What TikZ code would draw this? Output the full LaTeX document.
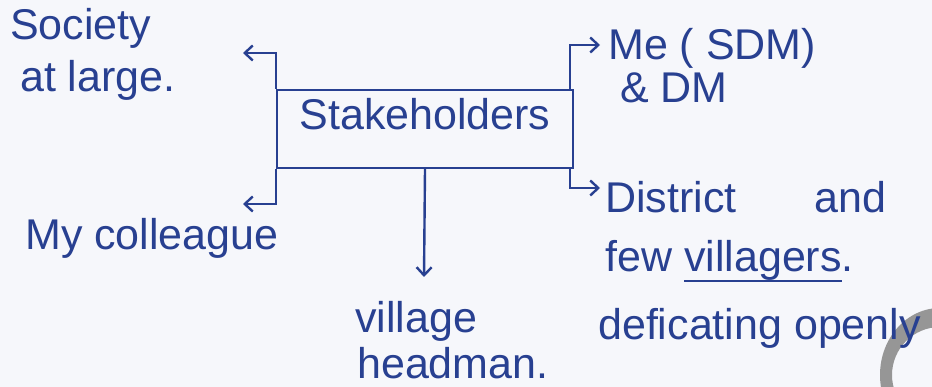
\documentclass[tikz,border=0pt]{standalone}
\usepackage{fontspec}
\setmainfont{Liberation Sans}
\usetikzlibrary{arrows.meta}
\definecolor{ink}{RGB}{40,64,145}
\definecolor{paper}{RGB}{246,247,251}
\definecolor{wm}{RGB}{150,150,150}
\newcommand\myul[1]{\setbox0\hbox{#1}\rlap{\color{ink}\rule[-10pt]{\wd0}{2pt}}#1}
\begin{document}
\begin{tikzpicture}[x=1pt,y=-1pt,
  handfont/.style={font=\fontsize{43}{50}\selectfont},
  txt/.style={handfont, anchor=base west, inner sep=0pt, text=ink},
  wire/.style={draw=ink, line width=2.4pt},
  arr/.style={wire, -{Straight Barb[length=8pt,width=15pt]}}]
\fill[paper] (0,0) rectangle (932,387);
\useasboundingbox (0,0) rectangle (932,387);
\begin{scope}
\clip (0,0) rectangle (932,387);
\fill[wm, even odd rule] (940,375) ellipse[x radius=60, y radius=67] (940,375) circle[radius=48];
\end{scope}

% central box
\node[wire, handfont, text=ink, anchor=center, minimum width=296pt, inner sep=0pt,
      text height=40pt, text depth=38pt] (stake) at (425,129) {Stakeholders};

% labels
\node[txt] (soc1) at (10,40) {Society};
\node[txt] (soc2) at (20,92) {at large.};
\node[txt] (me1) at (608,60) {Me ( SDM)};
\node[txt] (me2) at (620,103) {\& DM};
\node[txt] (dis1) at (605,213) {District\hspace{78pt}and};
\node[txt] (dis2) at (605,272) {few \myul{villagers}.};
\node[txt] (dis3) at (598,340) {deficating openly};
\node[txt] (col) at (25,250) {My colleague};
\node[txt] (vil1) at (355,333) {village};
\node[txt] (vil2) at (357,378) {headman.};

% arrow ends
\coordinate (socT) at (243,53);
\coordinate (colT) at (243,204);
\coordinate (meT) at (600,45);
\coordinate (disT) at (600,188);
\coordinate (headT) at (424,277);
\coordinate (rb) at ([xshift=-4pt]stake.north east);
\coordinate (rbb) at ([xshift=-4pt]stake.south east);

% connectors
\draw[arr] (stake.north west) -- (stake.north west |- socT) -- (socT);
\draw[arr] (stake.south west) -- (stake.south west |- colT) -- (colT);
\draw[arr] (rb) -- (rb |- meT) -- (meT);
\draw[arr] (rbb) -- (rbb |- disT) -- (disT);
\draw[arr] (stake.south) -- (headT);
\end{tikzpicture}
\end{document}
